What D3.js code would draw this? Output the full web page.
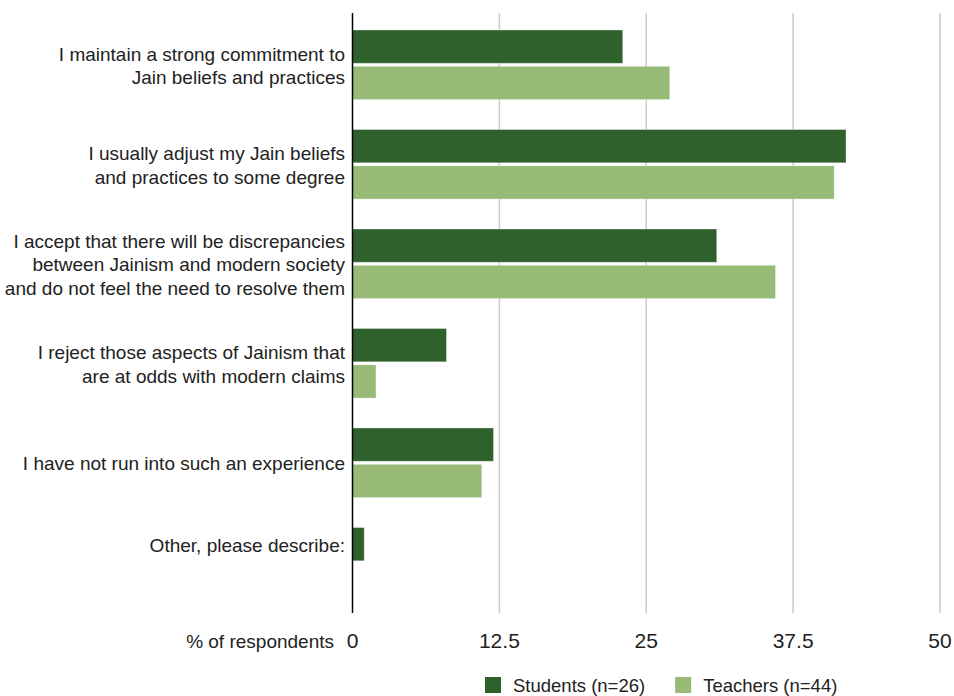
<!DOCTYPE html>
<html>
<head>
<meta charset="utf-8">
<script src="https://cdn.jsdelivr.net/npm/d3@7"></script>
<style>
  body { margin: 0; background: #fff; }
  text { font-family: "Liberation Sans", Arial, Helvetica, sans-serif; fill: #222; }
</style>
</head>
<body>
<div id="chart"></div>
<script>
// answers, one entry per group (lines are how the label wraps)
const categories = [
  ["I maintain a strong commitment to", "Jain beliefs and practices"],
  ["I usually adjust my Jain beliefs", "and practices to some degree"],
  ["I accept that there will be discrepancies", "between Jainism and modern society", "and do not feel the need to resolve them"],
  ["I reject those aspects of Jainism that", "are at odds with modern claims"],
  ["I have not run into such an experience"],
  ["Other, please describe:"]
];
const series = ["Students (n=26)", "Teachers (n=44)"];
const students = [23, 42, 31, 8, 12, 1];
const teachers = [27, 41, 36, 2, 11, 0];
const xTicks = [0, 12.5, 25, 37.5, 50];
const xTitle = "% of respondents";

const w = 954, h = 696;
const svg = d3.select("#chart").append("svg")
  .attr("width", w)
  .attr("height", h);

const colors = d3.scaleOrdinal().domain(series).range(["#2e612b", "#97ba76"]);

const keys = categories.map((c, i) => i);
const x = d3.scaleLinear().domain([0, 50]).range([352.5, 940]);
const y0 = d3.scaleBand().domain(keys).range([13, 610]);
const y1 = d3.scaleBand().domain(series).range([17, 86.6]).paddingInner(0.083);
const vals = [students, teachers];

// grid lines
svg.append("g").selectAll("line")
  .data(xTicks.filter(t => t > 0))
  .enter().append("line")
  .attr("x1", d => x(d)).attr("x2", d => x(d))
  .attr("y1", 13).attr("y2", 613)
  .attr("stroke", "#cbcbcb")
  .attr("stroke-width", 1.5);

// bars
const groups = svg.selectAll(".group")
  .data(keys)
  .enter().append("g")
  .attr("transform", d => `translate(0,${y0(d)})`);

groups.selectAll("rect")
  .data(i => series.map((s, j) => ({ s, v: vals[j][i] })).filter(d => d.v > 0))
  .enter().append("rect")
  .attr("x", x(0))
  .attr("y", d => y1(d.s))
  .attr("width", d => x(d.v) - x(0))
  .attr("height", y1.bandwidth())
  .attr("fill", d => colors(d.s))
  .attr("stroke", "rgba(255,255,255,0.35)")
  .attr("stroke-width", 1);

// category labels, centred on the visible bars
groups.each(function(i) {
  const shown = series.filter((s, j) => vals[j][i] > 0);
  const top = y1(shown[0]), bot = y1(shown[shown.length - 1]) + y1.bandwidth();
  const mid = (top + bot) / 2;
  const lines = categories[i], lh = 23.5;
  const t = d3.select(this).append("text")
    .attr("text-anchor", "end")
    .attr("font-size", 19);
  lines.forEach((l, k) => {
    t.append("tspan")
      .attr("x", 345)
      .attr("y", mid + (k - (lines.length - 1) / 2) * lh + 7.5)
      .text(l);
  });
});

// axis line
svg.append("line")
  .attr("x1", x(0)).attr("x2", x(0))
  .attr("y1", 13).attr("y2", 613)
  .attr("stroke", "#000")
  .attr("stroke-width", 1.5);

// x tick labels
svg.append("g").selectAll("text")
  .data(xTicks)
  .enter().append("text")
  .attr("x", d => x(d))
  .attr("y", 648)
  .attr("text-anchor", "middle")
  .attr("font-size", 21)
  .text(d => d);

svg.append("text")
  .attr("x", 334).attr("y", 648)
  .attr("text-anchor", "end")
  .attr("font-size", 19)
  .text(xTitle);

// legend
const legend = svg.append("g").attr("transform", "translate(485,677)");
let lx = 0;
series.forEach(s => {
  legend.append("rect").attr("x", lx).attr("y", 0).attr("width", 16).attr("height", 16).attr("fill", colors(s));
  const t = legend.append("text").attr("x", lx + 28).attr("y", 15).attr("font-size", 18.5).text(s);
  lx += 28 + t.node().getComputedTextLength() + 30;
});
</script>
</body>
</html>
